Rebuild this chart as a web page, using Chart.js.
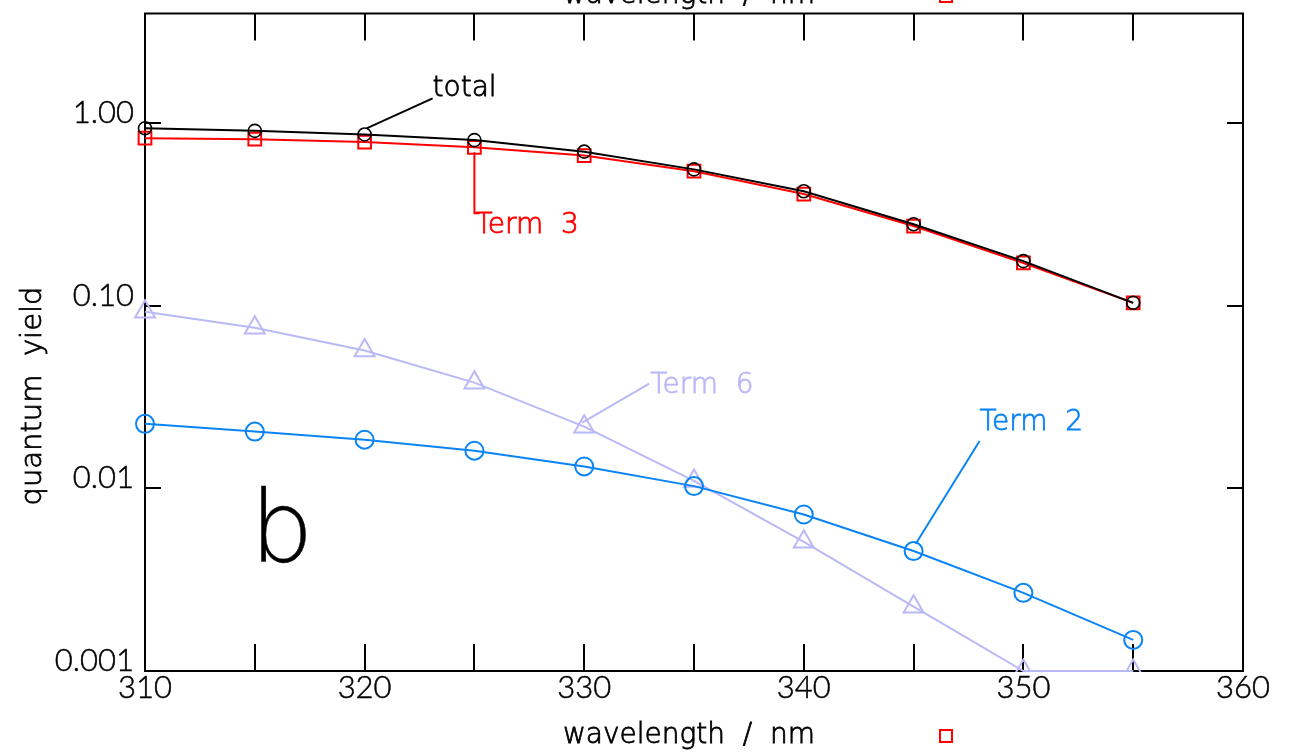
<!DOCTYPE html>
<html>
<head>
<meta charset="utf-8">
<script src="https://cdn.jsdelivr.net/npm/chart.js@4/dist/chart.umd.min.js"></script>
<style>
html,body{margin:0;padding:0;background:#fff;}
#wrap{width:1292px;height:753px;position:relative;}
</style>
</head>
<body>
<div id="wrap"><canvas id="c" width="1292" height="753"></canvas></div>
<script>
// ---- data ----
const wavelengths = [310, 315, 320, 325, 330, 335, 340, 345, 350, 355];
const total = [0.94, 0.91, 0.87, 0.81, 0.70, 0.56, 0.425, 0.28, 0.176, 0.104];
const term3 = [0.83, 0.82, 0.79, 0.74, 0.666, 0.547, 0.41, 0.274, 0.172, 0.104];
const term6 = [0.093, 0.076, 0.057, 0.038, 0.0218, 0.011, 0.0051, 0.00225, 0.001, 0.001];
const term2 = [0.0226, 0.0205, 0.0185, 0.0161, 0.0132, 0.0103, 0.0072, 0.00454, 0.00268, 0.00148];
const xTicks = [310, 315, 320, 325, 330, 335, 340, 345, 350, 355, 360];
const xTickLabels = ['310', '', '320', '', '330', '', '340', '', '350', '', '360'];
const yTicks = [0.001, 0.01, 0.1, 1];
const yTickLabels = ['0.001', '0.01', '0.10', '1.00'];
const xTitle = 'wavelength  /  nm';
const yTitle = 'quantum  yield';
const seriesNames = ['total', 'Term  3', 'Term  6', 'Term  2'];
const panelLabel = 'b';

const C_BLACK = '#000000', C_RED = '#ff0000', C_LAV = '#b9b9f6', C_BLUE = '#0a84f5';
const FONT = "'Lato', 'DejaVu Sans', sans-serif";
const TFONT = "'DejaVu Sans', sans-serif";

function pts(ys){ return wavelengths.map((x,i)=>({x:x, y:ys[i]})); }

function box(chart){
  const xs = chart.scales.x, ys = chart.scales.y;
  return { xs, ys,
    L: xs.getPixelForValue(310), R: xs.getPixelForValue(360),
    T: ys.getPixelForValue(4), B: ys.getPixelForValue(0.001) };
}

function boldText(ctx, s, x, y, color, w){
  ctx.fillStyle = color; ctx.strokeStyle = color;
  ctx.lineWidth = w || 0.8;
  ctx.fillText(s, x, y);
  ctx.strokeText(s, x, y);
}

const deco = {
  id: 'deco',
  beforeDatasetsDraw(chart){
    const ctx = chart.ctx; const {xs, ys, L, R, T, B} = box(chart);
    ctx.save();
    ctx.strokeStyle = '#000'; ctx.lineWidth = 2;
    ctx.strokeRect(L, T, R - L, B - T);
    ctx.beginPath();
    xTicks.forEach(v => {
      const px = Math.round(xs.getPixelForValue(v));
      ctx.moveTo(px, B); ctx.lineTo(px, B - 27);
      ctx.moveTo(px, T); ctx.lineTo(px, T + 27);
    });
    yTicks.forEach(v => {
      const py = Math.round(ys.getPixelForValue(v));
      ctx.moveTo(L, py); ctx.lineTo(L + 16, py);
      ctx.moveTo(R, py); ctx.lineTo(R - 16, py);
    });
    ctx.stroke();
    ctx.restore();
  },
  afterDraw(chart){
    const ctx = chart.ctx; const {xs, ys, L, R, T, B} = box(chart);
    ctx.save();
    // tick labels
    ctx.font = '300 31px ' + FONT;
    ctx.textAlign = 'center'; ctx.textBaseline = 'middle';
    xTicks.forEach((v,i) => {
      if (!xTickLabels[i]) return;
      boldText(ctx, xTickLabels[i], xs.getPixelForValue(v), B + 17, '#000', 0.5);
    });
    ctx.textAlign = 'right';
    yTicks.forEach((v,i) => {
      boldText(ctx, yTickLabels[i], L - 11, ys.getPixelForValue(v) - 10, '#000', 0.5);
    });
    // axis titles
    ctx.font = '200 28px ' + TFONT;
    ctx.textAlign = 'center';
    const cx = 689;
    boldText(ctx, xTitle, cx, B + 65, '#000');
    boldText(ctx, xTitle, cx, B + 65 - 740, '#000');
    ctx.strokeStyle = C_RED; ctx.lineWidth = 2;
    ctx.strokeRect(940, B + 59, 12, 12);
    ctx.strokeRect(940, B + 59 - 740, 12, 12);
    ctx.save();
    ctx.font = '200 29px ' + TFONT;
    ctx.translate(33, 396);
    ctx.rotate(-Math.PI / 2);
    boldText(ctx, yTitle, 0, 0, '#000');
    ctx.restore();

    // annotations
    ctx.font = '200 28px ' + TFONT;
    ctx.textAlign = 'left';
    // total
    let px = xs.getPixelForValue(wavelengths[2]), py = ys.getPixelForValue(total[2]);
    ctx.lineWidth = 2; ctx.strokeStyle = C_BLACK;
    ctx.beginPath(); ctx.moveTo(px + 2, py - 6); ctx.lineTo(px + 68, py - 36); ctx.stroke();
    boldText(ctx, seriesNames[0], px + 68, py - 46, C_BLACK);
    // Term 3
    px = xs.getPixelForValue(wavelengths[3]); py = ys.getPixelForValue(term3[3]);
    ctx.lineWidth = 2; ctx.strokeStyle = C_RED;
    ctx.beginPath(); ctx.moveTo(px, py + 5); ctx.lineTo(px, py + 66); ctx.lineTo(px + 5, py + 66); ctx.stroke();
    boldText(ctx, seriesNames[1], px + 1, py + 78, C_RED);
    // Term 6
    px = xs.getPixelForValue(wavelengths[4]); py = ys.getPixelForValue(term6[4]);
    ctx.lineWidth = 2; ctx.strokeStyle = C_LAV;
    ctx.beginPath(); ctx.moveTo(px - 2, py - 4); ctx.lineTo(px + 65, py - 43); ctx.stroke();
    boldText(ctx, seriesNames[2], px + 66, py - 41, C_LAV);
    // Term 2
    px = xs.getPixelForValue(wavelengths[7]); py = ys.getPixelForValue(term2[7]);
    ctx.lineWidth = 2; ctx.strokeStyle = C_BLUE;
    ctx.beginPath(); ctx.moveTo(px + 2, py - 7); ctx.lineTo(px + 66, py - 110); ctx.stroke();
    boldText(ctx, seriesNames[3], px + 66, py - 128, C_BLUE);

    // panel label
    ctx.font = '200 100px ' + TFONT;
    ctx.textAlign = 'left'; ctx.textBaseline = 'alphabetic';
    boldText(ctx, panelLabel, 250, 562, '#000', 0.4);
    ctx.restore();
  }
};

function ds(label, data, color, style, r, bw, clip){
  return {
    label, data: pts(data), borderColor: color, backgroundColor: 'rgba(0,0,0,0)',
    borderWidth: 2, pointStyle: style, pointRadius: r, pointBorderWidth: bw,
    pointBorderColor: color, pointBackgroundColor: 'rgba(0,0,0,0)',
    tension: 0, clip: clip, fill: false
  };
}

const looseClip = { left: 30, top: 30, right: 30, bottom: 30 };
new Chart(document.getElementById('c'), {
  type: 'line',
  data: {
    datasets: [
      ds(seriesNames[0], total, C_BLACK, 'circle', 6.5, 1.6, looseClip),
      ds(seriesNames[1], term3, C_RED, 'rect', 9, 2, looseClip),
      ds(seriesNames[3], term2, C_BLUE, 'circle', 9, 2, looseClip),
      ds(seriesNames[2], term6, C_LAV, 'triangle', 11.5, 2, { left: 30, top: 30, right: 30, bottom: 1 })
    ]
  },
  options: {
    responsive: false, animation: false, events: [],
    layout: { padding: { left: 145, right: 49, top: 12, bottom: 82 } },
    plugins: { legend: { display: false }, tooltip: { enabled: false } },
    scales: {
      x: { type: 'linear', min: 310, max: 360, display: false },
      y: { type: 'logarithmic', min: 0.001, max: 4, display: false }
    }
  },
  plugins: [deco]
});
</script>
</body>
</html>
